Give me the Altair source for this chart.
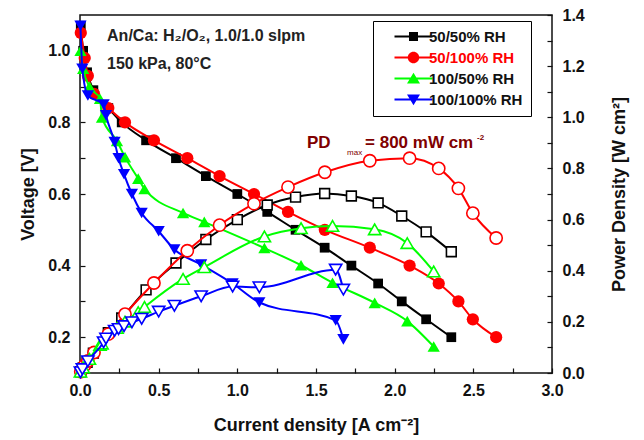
import json
import altair as alt
import pandas as pd

# ---------------- data ----------------
SERIES = ["50/50% RH", "50/100% RH", "100/50% RH", "100/100% RH"]
COLORS = ["#000000", "#FF0000", "#00FF00", "#0000FF"]
SHAPES = ["square", "circle", "triangle-up", "triangle-down"]

# current density [A cm-2], voltage [V], power density [W cm-2]
j_50_50 = [0.005, 0.02, 0.045, 0.085, 0.18, 0.265, 0.42, 0.61, 0.80, 1.00, 1.19, 1.37, 1.555, 1.725, 1.895, 2.045, 2.20, 2.36]
v_50_50 = [1.07, 1.00, 0.94, 0.89, 0.84, 0.80, 0.75, 0.70, 0.65, 0.60, 0.55, 0.50, 0.45, 0.40, 0.35, 0.30, 0.25, 0.20]
p_50_50 = [0.005, 0.02, 0.042, 0.078, 0.158, 0.215, 0.325, 0.43, 0.522, 0.60, 0.657, 0.688, 0.702, 0.692, 0.665, 0.614, 0.552, 0.474]

j_50_100 = [0.005, 0.03, 0.05, 0.089, 0.18, 0.286, 0.47, 0.682, 0.887, 1.106, 1.322, 1.556, 1.842, 2.095, 2.28, 2.405, 2.497, 2.645]
v_50_100 = [1.05, 0.98, 0.93, 0.88, 0.84, 0.80, 0.75, 0.70, 0.65, 0.60, 0.55, 0.50, 0.45, 0.40, 0.35, 0.30, 0.25, 0.20]
p_50_100 = [0.005, 0.03, 0.047, 0.08, 0.152, 0.23, 0.352, 0.478, 0.578, 0.662, 0.727, 0.785, 0.83, 0.84, 0.80, 0.722, 0.625, 0.528]

j_100_50 = [0.003, 0.02, 0.06, 0.127, 0.14, 0.235, 0.286, 0.37, 0.41, 0.655, 0.79, 1.172, 1.405, 1.605, 1.873, 2.08, 2.248]
v_100_50 = [1.00, 0.95, 0.90, 0.866, 0.814, 0.748, 0.703, 0.643, 0.614, 0.547, 0.522, 0.449, 0.401, 0.352, 0.296, 0.245, 0.174]
p_100_50 = [0.005, 0.022, 0.055, 0.11, 0.115, 0.176, 0.201, 0.238, 0.258, 0.368, 0.414, 0.534, 0.566, 0.575, 0.562, 0.508, 0.397]

j_100_100 = [0.003, 0.015, 0.05, 0.15, 0.165, 0.22, 0.245, 0.28, 0.33, 0.392, 0.50, 0.60, 0.77, 0.97, 1.14, 1.625, 1.674]
v_100_100 = [1.07, 0.95, 0.875, 0.85, 0.82, 0.745, 0.70, 0.655, 0.60, 0.547, 0.496, 0.445, 0.403, 0.35, 0.297, 0.247, 0.194]
p_100_100 = [0.003, 0.015, 0.046, 0.12, 0.135, 0.165, 0.172, 0.183, 0.198, 0.212, 0.24, 0.263, 0.30, 0.338, 0.335, 0.404, 0.326]

J_DATA = [j_50_50, j_50_100, j_100_50, j_100_100]
V_DATA = [v_50_50, v_50_100, v_100_50, v_100_100]
P_DATA = [p_50_50, p_50_100, p_100_50, p_100_100]

# axis ticks
X_TICKS = [0.0, 0.25, 0.5, 0.75, 1.0, 1.25, 1.5, 1.75, 2.0, 2.25, 2.5, 2.75, 3.0]
X_LABELS = [0.0, 0.5, 1.0, 1.5, 2.0, 2.5, 3.0]
V_TICKS = [0.2, 0.3, 0.4, 0.5, 0.6, 0.7, 0.8, 0.9, 1.0]
V_LABELS = [0.2, 0.4, 0.6, 0.8, 1.0]
P_TICKS = [0.0, 0.1, 0.2, 0.3, 0.4, 0.5, 0.6, 0.7, 0.8, 0.9, 1.0, 1.1, 1.2, 1.3, 1.4]
P_LABELS = [0.0, 0.2, 0.4, 0.6, 0.8, 1.0, 1.2, 1.4]

# annotations (anchor in data units: current density, voltage)
NOTE_J = [0.172, 0.172]
NOTE_V = [1.028, 0.949]
NOTE_TEXT = ["An/Ca: H\u2082/O\u2082, 1.0/1.0 slpm", "150 kPa, 80\u00b0C"]
PD_J = [1.443]
PD_V = [0.729]

FONT = "Liberation Sans"
INK = "#111111"
MAROON = "#800000"

# legend symbols: line segment + marker (custom paths)
LEG_LINE = "M-3.8,-0.2H3.8V0.2H-3.8Z"
LEG_PATHS = [
    LEG_LINE + "M-0.9,-0.9H0.9V0.9H-0.9Z",
    LEG_LINE + "M1.15,0A1.15,1.15 0 1,1 -1.15,0A1.15,1.15 0 1,1 1.15,0Z",
    LEG_LINE + "M0,-1.15L1.3,1L-1.3,1Z",
    LEG_LINE + "M-1.3,-1L1.3,-1L0,1.15Z",
]

W, H = 472, 358


def lab_expr(labels):
    return f"indexof({json.dumps(labels)}, datum.value) >= 0 ? format(datum.value, '.1f') : ''"


x_enc = alt.X(
    "J:Q",
    scale=alt.Scale(domain=[0, 3], nice=False, zero=False),
    axis=alt.Axis(
        title="Current density [A cm\u207b\u00b2]", values=X_TICKS, labelExpr=lab_expr(X_LABELS),
        offset=-5, tickSize=5, domain=False, grid=False, labelPadding=9, labelFlush=False,
        labelOverlap=False, labelFontSize=16, titleFontSize=18, titlePadding=18,
    ),
)
yv_enc = alt.Y(
    "V:Q",
    scale=alt.Scale(domain=[0.1, 1.1], nice=False, zero=False),
    axis=alt.Axis(
        title="Voltage [V]", orient="left", values=V_TICKS, labelExpr=lab_expr(V_LABELS),
        offset=-5, tickSize=5, domain=False, grid=False, labelPadding=10, labelFlush=False,
        labelOverlap=False, labelFontSize=16, titleFontSize=18, titlePadding=10,
    ),
)
yp_enc = alt.Y(
    "P:Q",
    scale=alt.Scale(domain=[0, 1.4], nice=False, zero=False),
    axis=alt.Axis(
        title="Power Density [W cm\u00b2]", orient="right", values=P_TICKS, labelExpr=lab_expr(P_LABELS),
        offset=-5, tickSize=5, domain=False, grid=False, labelPadding=10, labelFlush=False,
        labelOverlap=False, labelFontSize=16, titleFontSize=18, titlePadding=26,
        titleAngle=270, titleBaseline="top",
    ),
)

rows = []
for s, js, vs, ps in zip(SERIES, J_DATA, V_DATA, P_DATA):
    for j, v, p in zip(js, vs, ps):
        rows.append({"series": s, "J": j, "V": v, "P": p})
df = pd.DataFrame(rows)

v_layers, p_layers = [], []
for s, c, shp in zip(SERIES, COLORS, SHAPES):
    d = df[df["series"] == s]
    size = 95 if shp == "square" else 150
    base = alt.Chart(d)
    v_layers.append(base.mark_line(color=c, strokeWidth=2, interpolate="monotone").encode(x=x_enc, y=yv_enc))
    v_layers.append(
        base.mark_point(shape=shp, filled=True, fill=c, strokeWidth=0, size=size, opacity=1).encode(x=x_enc, y=yv_enc)
    )
    p_layers.append(base.mark_line(color=c, strokeWidth=2, interpolate="monotone").encode(x=x_enc, y=yp_enc))
    p_layers.append(
        base.mark_point(shape=shp, filled=True, fill="white", stroke=c, strokeWidth=1.6, size=size, opacity=1).encode(
            x=x_enc, y=yp_enc
        )
    )

legend_kw = dict(
    title=None, orient="none", legendX=293, legendY=6, direction="vertical",
    padding=8, strokeColor="#000000", fillColor="#ffffff",
    symbolSize=100, symbolStrokeWidth=0, symbolOpacity=1, symbolOffset=25, labelOffset=8,
    rowPadding=5, labelFont=FONT, labelFontSize=15, labelFontWeight="bold",
    labelExpr="datum.label + '  '",
    labelColor={"expr": "datum.label == '50/100% RH' ? '#FF0000' : '#111111'"},
)
legend_df = pd.DataFrame({"series": SERIES})
legend_layer = (
    alt.Chart(legend_df)
    .transform_filter("false")
    .mark_point(filled=True, size=100)
    .encode(
        color=alt.Color("series:N", scale=alt.Scale(domain=SERIES, range=COLORS), legend=alt.Legend(**legend_kw)),
        shape=alt.Shape("series:N", scale=alt.Scale(domain=SERIES, range=LEG_PATHS), legend=alt.Legend(**legend_kw)),
    )
)

note_df = pd.DataFrame({"J": NOTE_J, "V": NOTE_V, "text": NOTE_TEXT})
notes = alt.Chart(note_df).mark_text(
    align="left", baseline="alphabetic", font=FONT, fontSize=16, fontWeight="bold", color="#222222"
).encode(x=x_enc, y=yv_enc, text="text:N")

pd_df = pd.DataFrame({"J": PD_J, "V": PD_V})
pd_base = alt.Chart(pd_df)
pd_main = pd_base.mark_text(
    align="left", baseline="alphabetic", font=FONT, fontSize=17, fontWeight="bold", color=MAROON, text="PD"
).encode(x=x_enc, y=yv_enc)
pd_sub = pd_base.mark_text(
    align="left", baseline="alphabetic", font=FONT, fontSize=8, color=MAROON, text="max", dx=40, dy=7
).encode(x=x_enc, y=yv_enc)
pd_rest = pd_base.mark_text(
    align="left", baseline="alphabetic", font=FONT, fontSize=17, fontWeight="bold", color=MAROON,
    text="= 800 mW cm", dx=58,
).encode(x=x_enc, y=yv_enc)
pd_sup = pd_base.mark_text(
    align="left", baseline="alphabetic", font=FONT, fontSize=8, fontWeight="bold", color=MAROON,
    text="-2", dx=170, dy=-8,
).encode(x=x_enc, y=yv_enc)

left = alt.layer(*v_layers, legend_layer, notes, pd_main, pd_sub, pd_rest, pd_sup)
right = alt.layer(*p_layers)

chart = (
    alt.layer(left, right)
    .resolve_scale(y="independent", color="independent", shape="independent")
    .properties(
        width=W, height=H,
        autosize=alt.AutoSizeParams(type="none"),
        padding={"left": 72, "top": 7, "right": 84, "bottom": 67},
        background="white",
    )
    .configure_view(stroke=INK, strokeWidth=1.5)
    .configure_axis(
        labelFont=FONT, titleFont=FONT, labelFontWeight="bold", titleFontWeight="bold",
        labelColor=INK, titleColor=INK, tickColor=INK, tickWidth=1.2,
    )
)

chart.save("out.html", embed_options={"renderer": "svg", "actions": False})
